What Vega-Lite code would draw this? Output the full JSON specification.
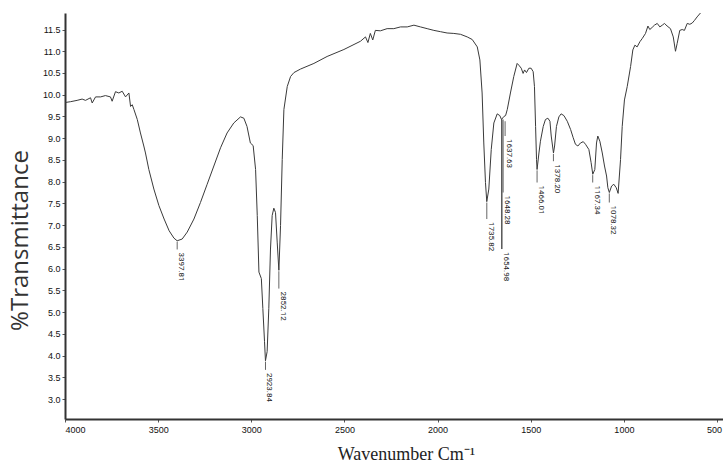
{
  "$schema": "https://vega.github.io/schema/vega-lite/v6.json",
  "autosize": {"type": "none"},
  "padding": {"left": 65, "top": 13, "right": 0, "bottom": 47},
  "width": 658,
  "height": 406,
  "background": "white",
  "config": {"view": {"stroke": null}, "axis": {"labelOverlap": false}, "text": {"font": "Roboto"}},
  "datasets": {
    "spectrum": [
      {"wn": 4000, "t": 9.82}, {"wn": 3970, "t": 9.84}, {"wn": 3935, "t": 9.87}, {"wn": 3908, "t": 9.9},
      {"wn": 3890, "t": 9.87}, {"wn": 3863, "t": 9.93}, {"wn": 3854, "t": 9.81}, {"wn": 3836, "t": 9.95},
      {"wn": 3809, "t": 9.95}, {"wn": 3783, "t": 9.98}, {"wn": 3756, "t": 9.95}, {"wn": 3747, "t": 9.85},
      {"wn": 3729, "t": 10.07}, {"wn": 3711, "t": 10.04}, {"wn": 3693, "t": 10.08}, {"wn": 3675, "t": 9.95},
      {"wn": 3657, "t": 10.04}, {"wn": 3648, "t": 9.73}, {"wn": 3639, "t": 9.77}, {"wn": 3630, "t": 9.66},
      {"wn": 3612, "t": 9.43}, {"wn": 3595, "t": 9.12}, {"wn": 3577, "t": 8.82}, {"wn": 3568, "t": 8.66},
      {"wn": 3550, "t": 8.28}, {"wn": 3523, "t": 7.83}, {"wn": 3496, "t": 7.45}, {"wn": 3468, "t": 7.14},
      {"wn": 3441, "t": 6.87}, {"wn": 3415, "t": 6.7}, {"wn": 3398, "t": 6.64}, {"wn": 3371, "t": 6.68},
      {"wn": 3344, "t": 6.84}, {"wn": 3308, "t": 7.14}, {"wn": 3273, "t": 7.52}, {"wn": 3237, "t": 7.94},
      {"wn": 3201, "t": 8.36}, {"wn": 3165, "t": 8.78}, {"wn": 3130, "t": 9.12}, {"wn": 3094, "t": 9.35},
      {"wn": 3058, "t": 9.49}, {"wn": 3040, "t": 9.46}, {"wn": 3023, "t": 9.27}, {"wn": 3005, "t": 8.89},
      {"wn": 2990, "t": 8.83}, {"wn": 2977, "t": 8.28}, {"wn": 2968, "t": 7.22}, {"wn": 2959, "t": 5.92},
      {"wn": 2946, "t": 5.77}, {"wn": 2938, "t": 5.08}, {"wn": 2929, "t": 4.32}, {"wn": 2924, "t": 3.88},
      {"wn": 2915, "t": 4.09}, {"wn": 2906, "t": 5.08}, {"wn": 2897, "t": 6.45}, {"wn": 2888, "t": 7.22},
      {"wn": 2879, "t": 7.39}, {"wn": 2870, "t": 7.29}, {"wn": 2861, "t": 6.61}, {"wn": 2852, "t": 5.96},
      {"wn": 2843, "t": 6.99}, {"wn": 2834, "t": 8.51}, {"wn": 2825, "t": 9.66}, {"wn": 2807, "t": 10.19},
      {"wn": 2789, "t": 10.42}, {"wn": 2771, "t": 10.51}, {"wn": 2736, "t": 10.59}, {"wn": 2664, "t": 10.72},
      {"wn": 2593, "t": 10.88}, {"wn": 2503, "t": 11.04}, {"wn": 2414, "t": 11.23}, {"wn": 2387, "t": 11.33},
      {"wn": 2374, "t": 11.2}, {"wn": 2361, "t": 11.41}, {"wn": 2348, "t": 11.26}, {"wn": 2334, "t": 11.48},
      {"wn": 2307, "t": 11.47}, {"wn": 2271, "t": 11.52}, {"wn": 2235, "t": 11.52}, {"wn": 2199, "t": 11.56},
      {"wn": 2163, "t": 11.56}, {"wn": 2127, "t": 11.6}, {"wn": 2092, "t": 11.56}, {"wn": 2056, "t": 11.52},
      {"wn": 2020, "t": 11.48}, {"wn": 1984, "t": 11.45}, {"wn": 1949, "t": 11.42}, {"wn": 1913, "t": 11.41},
      {"wn": 1877, "t": 11.39}, {"wn": 1841, "t": 11.33}, {"wn": 1814, "t": 11.27}, {"wn": 1787, "t": 11.1},
      {"wn": 1773, "t": 10.8}, {"wn": 1761, "t": 10.04}, {"wn": 1752, "t": 8.89}, {"wn": 1743, "t": 7.98},
      {"wn": 1736, "t": 7.54}, {"wn": 1725, "t": 7.83}, {"wn": 1712, "t": 8.74}, {"wn": 1698, "t": 9.35},
      {"wn": 1680, "t": 9.56}, {"wn": 1666, "t": 9.52}, {"wn": 1657, "t": 9.43}, {"wn": 1644, "t": 9.5},
      {"wn": 1635, "t": 9.52}, {"wn": 1626, "t": 9.66}, {"wn": 1609, "t": 10.04}, {"wn": 1591, "t": 10.42},
      {"wn": 1573, "t": 10.72}, {"wn": 1564, "t": 10.68}, {"wn": 1551, "t": 10.61}, {"wn": 1541, "t": 10.49},
      {"wn": 1533, "t": 10.57}, {"wn": 1523, "t": 10.51}, {"wn": 1510, "t": 10.61}, {"wn": 1498, "t": 10.61},
      {"wn": 1487, "t": 10.53}, {"wn": 1480, "t": 10.19}, {"wn": 1474, "t": 9.27}, {"wn": 1469, "t": 8.51},
      {"wn": 1466, "t": 8.28}, {"wn": 1456, "t": 8.66}, {"wn": 1448, "t": 8.93}, {"wn": 1433, "t": 9.27},
      {"wn": 1421, "t": 9.43}, {"wn": 1408, "t": 9.46}, {"wn": 1397, "t": 9.39}, {"wn": 1390, "t": 9.05},
      {"wn": 1378, "t": 8.66}, {"wn": 1372, "t": 8.82}, {"wn": 1362, "t": 9.27}, {"wn": 1349, "t": 9.49},
      {"wn": 1337, "t": 9.56}, {"wn": 1322, "t": 9.52}, {"wn": 1304, "t": 9.39}, {"wn": 1286, "t": 9.2},
      {"wn": 1272, "t": 9.01}, {"wn": 1260, "t": 8.86}, {"wn": 1247, "t": 8.82}, {"wn": 1233, "t": 8.89},
      {"wn": 1218, "t": 8.92}, {"wn": 1206, "t": 8.86}, {"wn": 1188, "t": 8.74}, {"wn": 1176, "t": 8.44},
      {"wn": 1167, "t": 8.17}, {"wn": 1156, "t": 8.28}, {"wn": 1147, "t": 8.89}, {"wn": 1140, "t": 9.05},
      {"wn": 1129, "t": 8.93}, {"wn": 1116, "t": 8.66}, {"wn": 1104, "t": 8.36}, {"wn": 1093, "t": 8.13},
      {"wn": 1086, "t": 7.86}, {"wn": 1078, "t": 7.75}, {"wn": 1066, "t": 7.9}, {"wn": 1054, "t": 7.94},
      {"wn": 1041, "t": 7.86}, {"wn": 1031, "t": 7.73}, {"wn": 1018, "t": 8.51}, {"wn": 1009, "t": 9.27},
      {"wn": 997, "t": 9.88}, {"wn": 982, "t": 10.19}, {"wn": 964, "t": 10.65}, {"wn": 952, "t": 11.03},
      {"wn": 941, "t": 11.14}, {"wn": 929, "t": 11.1}, {"wn": 914, "t": 11.22}, {"wn": 902, "t": 11.29},
      {"wn": 884, "t": 11.41}, {"wn": 871, "t": 11.58}, {"wn": 861, "t": 11.5}, {"wn": 848, "t": 11.55},
      {"wn": 836, "t": 11.6}, {"wn": 821, "t": 11.64}, {"wn": 807, "t": 11.56}, {"wn": 794, "t": 11.6},
      {"wn": 782, "t": 11.64}, {"wn": 768, "t": 11.58}, {"wn": 750, "t": 11.52}, {"wn": 735, "t": 11.33},
      {"wn": 723, "t": 11.0}, {"wn": 714, "t": 11.18}, {"wn": 700, "t": 11.48}, {"wn": 687, "t": 11.5},
      {"wn": 675, "t": 11.48}, {"wn": 660, "t": 11.64}, {"wn": 646, "t": 11.62}, {"wn": 633, "t": 11.65},
      {"wn": 621, "t": 11.71}, {"wn": 607, "t": 11.79}, {"wn": 589, "t": 11.88}
    ],
    "peaks": [
      {"wn": 3397.81, "label": "3397.81", "top": 6.62, "end": 6.44},
      {"wn": 2923.84, "label": "2923.84", "top": 3.86, "end": 3.67},
      {"wn": 2852.12, "label": "2852.12", "top": 5.94, "end": 5.54},
      {"wn": 1735.82, "label": "1735.82", "top": 7.52, "end": 7.14},
      {"wn": 1654.98, "label": "1654.98", "top": 9.43, "end": 6.45},
      {"wn": 1648.28, "label": "1648.28", "top": 9.43, "end": 7.75},
      {"wn": 1637.63, "label": "1637.63", "top": 9.39, "end": 9.05},
      {"wn": 1466.01, "label": "1466.01", "top": 8.26, "end": 7.98},
      {"wn": 1378.2, "label": "1378.20", "top": 8.64, "end": 8.47},
      {"wn": 1167.34, "label": "1167.34", "top": 8.15, "end": 7.98},
      {"wn": 1078.32, "label": "1078.32", "top": 7.73, "end": 7.52}
    ]
  },
  "layer": [
    {
      "data": {"name": "spectrum"},
      "mark": {"type": "line", "color": "#3a3a3a", "strokeWidth": 1, "clip": false},
      "encoding": {
        "x": {
          "field": "wn", "type": "quantitative",
          "scale": {"domain": [468, 4000], "reverse": true, "nice": false, "zero": false},
          "axis": {
            "values": [4000, 3500, 3000, 2500, 2000, 1500, 1000, 500],
            "format": "d",
            "grid": false,
            "labelOverlap": false,
            "domainColor": "#333333", "domainWidth": 2,
            "tickColor": "#555555", "tickSize": 3, "tickWidth": 1,
            "labelFont": "Liberation Sans", "labelFontSize": 9, "labelColor": "#111111", "labelPadding": 3,
            "labelOffset": {"condition": {"test": "datum.value == 500", "value": -3}, "value": 0},
            "title": "Wavenumber Cm⁻¹",
            "titleFont": "Liberation Serif", "titleFontSize": 18, "titleFontWeight": "normal", "titleColor": "#222222",
            "titleX": 341, "titleY": 26, "titleBaseline": "top", "titleAnchor": "middle", "titleAlign": "center"
          }
        },
        "y": {
          "field": "t", "type": "quantitative",
          "scale": {"domain": [2.54, 11.88], "nice": false, "zero": false},
          "axis": {
            "values": [3, 3.5, 4, 4.5, 5, 5.5, 6, 6.5, 7, 7.5, 8, 8.5, 9, 9.5, 10, 10.5, 11, 11.5],
            "tickCount": 18,
            "format": ".1f",
            "grid": false,
            "labelOverlap": false,
            "domainColor": "#333333", "domainWidth": 2,
            "tickColor": "#555555", "tickSize": 3, "tickWidth": 1,
            "labelFont": "Liberation Sans", "labelFontSize": 9, "labelColor": "#111111", "labelPadding": 2,
            "title": "%Transmittance",
            "titleFont": "Open Sans", "titleFontSize": 24, "titleFontWeight": "normal", "titleColor": "#333333",
            "titleAngle": -90, "titleX": -45, "titleY": 227, "titleBaseline": "middle", "titleAlign": "center"
          }
        }
      }
    },
    {
      "data": {"name": "peaks"},
      "mark": {"type": "rule", "strokeWidth": 1},
      "encoding": {
        "x": {"field": "wn", "type": "quantitative"},
        "y": {
          "field": "top", "type": "quantitative",
          "axis": {
            "values": [3, 3.5, 4, 4.5, 5, 5.5, 6, 6.5, 7, 7.5, 8, 8.5, 9, 9.5, 10, 10.5, 11, 11.5],
            "tickCount": 18,
            "format": ".1f",
            "grid": false,
            "labelOverlap": false,
            "domainColor": "#333333", "domainWidth": 2,
            "tickColor": "#555555", "tickSize": 3, "tickWidth": 1,
            "labelFont": "Liberation Sans", "labelFontSize": 9, "labelColor": "#111111", "labelPadding": 2,
            "title": "%Transmittance",
            "titleFont": "Open Sans", "titleFontSize": 24, "titleFontWeight": "normal", "titleColor": "#333333",
            "titleAngle": -90, "titleX": -45, "titleY": 227, "titleBaseline": "middle", "titleAlign": "center"
          }
        },
        "y2": {"field": "end"},
        "color": {"condition": {"test": "datum.label === '1654.98'", "value": "#000000"}, "value": "#666666"}
      }
    },
    {
      "data": {"name": "peaks"},
      "mark": {"type": "text", "angle": 90, "align": "left", "baseline": "bottom", "dx": 3, "fontSize": 8, "font": "Roboto", "color": "#222222"},
      "encoding": {
        "x": {"field": "wn", "type": "quantitative"},
        "y": {
          "field": "end", "type": "quantitative",
          "axis": {
            "values": [3, 3.5, 4, 4.5, 5, 5.5, 6, 6.5, 7, 7.5, 8, 8.5, 9, 9.5, 10, 10.5, 11, 11.5],
            "tickCount": 18,
            "format": ".1f",
            "grid": false,
            "labelOverlap": false,
            "domainColor": "#333333", "domainWidth": 2,
            "tickColor": "#555555", "tickSize": 3, "tickWidth": 1,
            "labelFont": "Liberation Sans", "labelFontSize": 9, "labelColor": "#111111", "labelPadding": 2,
            "title": "%Transmittance",
            "titleFont": "Open Sans", "titleFontSize": 24, "titleFontWeight": "normal", "titleColor": "#333333",
            "titleAngle": -90, "titleX": -45, "titleY": 227, "titleBaseline": "middle", "titleAlign": "center"
          }
        },
        "text": {"field": "label"}
      }
    }
  ]
}
